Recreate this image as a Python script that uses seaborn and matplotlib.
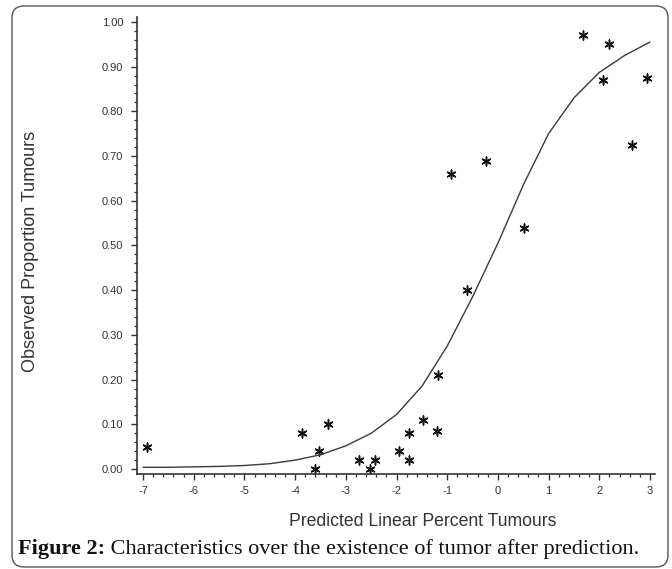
import matplotlib
matplotlib.use("Agg")
import matplotlib.pyplot as plt
from matplotlib.patches import FancyBboxPatch
from matplotlib.transforms import IdentityTransform
from matplotlib.ticker import MultipleLocator, FixedLocator
import seaborn as sns
import pandas as pd

# ---- data ----
pred_x = [-6.93, -3.86, -3.35, -3.52, -3.60, -2.74, -2.42, -2.52, -1.95, -1.75,
          -1.75, -1.48, -1.20, -1.18, -0.61, -0.93, -0.24, 0.51, 1.67, 2.19,
          2.07, 2.95, 2.64]
obs_y = [0.05, 0.08, 0.10, 0.04, 0.00, 0.02, 0.02, 0.00, 0.04, 0.02,
         0.08, 0.11, 0.085, 0.21, 0.40, 0.66, 0.69, 0.54, 0.97, 0.95,
         0.87, 0.875, 0.725]

curve_x = [-7.0, -6.5, -6.0, -5.5, -5.0, -4.5, -4.0, -3.5, -3.0, -2.5, -2.0,
           -1.5, -1.0, -0.5, 0.0, 0.5, 1.0, 1.5, 2.0, 2.5, 3.0]
curve_y = [0.004, 0.004, 0.005, 0.006, 0.008, 0.012, 0.020, 0.032, 0.052, 0.080,
           0.122, 0.185, 0.275, 0.385, 0.505, 0.635, 0.750, 0.830, 0.887, 0.925,
           0.955]

x_ticks = [-7, -6, -5, -4, -3, -2, -1, 0, 1, 2, 3]
y_ticks = [0.0, 0.1, 0.2, 0.3, 0.4, 0.5, 0.6, 0.7, 0.8, 0.9, 1.0]
y_ticklabels = ["0.00", "0.10", "0.20", "0.30", "0.40", "0.50", "0.60", "0.70",
                "0.80", "0.90", "1.00"]

x_label = "Predicted Linear Percent Tumours"
y_label = "Observed Proportion Tumours"
caption_bold = "Figure 2:"
caption_text = " Characteristics over the existence of tumor after prediction."

pts = pd.DataFrame({"x": pred_x, "y": obs_y})
crv = pd.DataFrame({"x": curve_x, "y": curve_y})

# ---- style ----
sns.set_style("ticks")
plt.rcParams["font.family"] = ["Liberation Sans", "DejaVu Sans"]
plt.rcParams["axes.unicode_minus"] = False

W, H = 672, 569
fig = plt.figure(figsize=(W / 100, H / 100), dpi=100)
fig.patch.set_facecolor("white")

ax = fig.add_axes([137 / W, 1 - 474 / H, (655 - 137) / W, (474 - 17) / H])
ax.set_facecolor("white")

sns.lineplot(data=crv, x="x", y="y", ax=ax, color="#3a3a3a", linewidth=1.0,
             sort=False, estimator=None)
sns.scatterplot(data=pts, x="x", y="y", ax=ax, marker=(6, 2, 0), s=42,
                color="#111111", linewidth=1.1, edgecolor="#111111")

ax.set_xlim(-7.12, 3.1)
ax.set_ylim(-0.011, 1.011)

ax.xaxis.set_major_locator(FixedLocator(x_ticks))
ax.set_xticklabels([str(v) for v in x_ticks])
ax.xaxis.set_minor_locator(MultipleLocator(0.2))
ax.yaxis.set_major_locator(FixedLocator(y_ticks))
ax.set_yticklabels(y_ticklabels)
ax.yaxis.set_minor_locator(MultipleLocator(0.02))

ax.tick_params(axis="both", which="major", length=4, width=1, color="#333333",
               labelsize=8, labelcolor="#333333", direction="out")
ax.tick_params(axis="x", which="major", pad=5)
ax.tick_params(axis="y", which="major", pad=6)
ax.tick_params(axis="both", which="minor", length=2.2, width=0.9, color="#333333",
               direction="out")

for s in ["top", "right"]:
    ax.spines[s].set_visible(False)
for s in ["left", "bottom"]:
    ax.spines[s].set_color("#333333")
    ax.spines[s].set_linewidth(1.2)

ax.set_xlabel("")
ax.set_ylabel("")
fig.text(423 / W, 1 - 522 / H, x_label, ha="center", va="center", fontsize=12.7,
         color="#333333")
fig.text(31 / W, 1 - 251 / H, y_label, ha="center", va="center", fontsize=13,
         color="#333333", rotation=90)

# rounded border
border = FancyBboxPatch((12 + 12, (H - 567) + 12), (668 - 12) - 24, (567 - 6) - 24,
                        boxstyle="round,pad=12", transform=IdentityTransform(),
                        facecolor="none", edgecolor="#555555", linewidth=1.0)
fig.patches.append(border)

# caption
serif = ["Liberation Serif", "DejaVu Serif"]
t1 = fig.text(18 / W, 1 - 549 / H, caption_bold, ha="left", va="center",
              fontsize=16, fontweight="bold", family=serif, color="#111111")
fig.canvas.draw()
bb = t1.get_window_extent()
fig.text(bb.x1 / W, 1 - 549 / H, caption_text, ha="left", va="center",
         fontsize=16, family=serif, color="#111111")

fig.savefig("out.png", dpi=100)
